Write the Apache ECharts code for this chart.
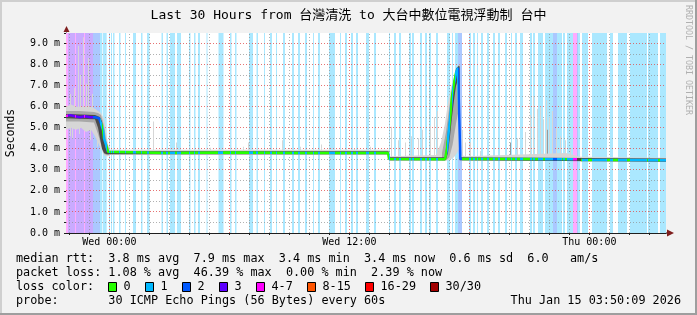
<!DOCTYPE html>
<html><head><meta charset="utf-8">
<script src="https://cdn.jsdelivr.net/npm/echarts@6/dist/echarts.min.js"></script>
<style>html,body{margin:0;padding:0;background:#f2f2f2}#c{width:697px;height:315px}</style>
</head><body><div id="c"></div>
<script>
const MONO = "'DejaVu Sans Mono', 'Noto Sans CJK TC', monospace";
// x = minutes since Tue 21:50 (start of the 30-hour window), y = milliseconds
const T_MAX = 1800;
const Y_MAX = 9.5;
const titleText = 'Last 30 Hours from 台灣清洗 to 大台中數位電視浮動制 台中';
const xLabelValues = [130, 850, 1570];
const xLabelTexts = ['Wed 00:00', 'Wed 12:00', 'Thu 00:00'];
const hourLines = [10,70,130,190,250,310,370,430,490,550,610,670,730,790,850,910,970,1030,1090,1150,1210,1270,1330,1390,1450,1510,1570,1630,1690,1750];
const majorHourLines = [130, 490, 850, 1210, 1570];
const yGridValues = [0.5,1,1.5,2,2.5,3,3.5,4,4.5,5,5.5,6,6.5,7,7.5,8,8.5,9];

const lossLabels = ['0','1','2','3','4-7','8-15','16-29','30/30'];
const lossColors = ['#26ff00','#00b8ff','#0059ff','#5e00ff','#ff00ff','#ff5500','#ff0000','#a10000'];

// loss periods [start, end] in minutes, per loss class
const loss1 = [[102,108],[110,122],[129,132],[135,138],[141,145.5],[159,163.5],[177,180],[201,210],[225,229.5],[243,250.5],[286.5,291],[301.5,306],[312,327],[333,345],[369,373.5],[384,388.5],[396,402],[421.5,424.5],[457.5,472.5],[492,496.5],[507,511.5],[549,561],[571.5,576],
 [594,597],[612,618],[630,633],[651,657],[678,684],[696,702],[717,723],[741,744],[756,762],[789,807],[822,825],[837,843],[855,861],[870,876],[900,909],[924,930],
 [969,972],[984,990],[999,1005],[1029,1035],[1038,1044],[1062,1068],[1077,1083],[1089,1095],[1110,1116],[1143,1152],[1158,1161],[1167,1176],[1209,1215],[1221,1227],[1233,1236],[1245,1251],[1263,1269],[1281,1287],[1296,1302],[1317,1323],[1335,1338],[1347,1353],[1362,1371],[1392,1398],[1401,1407],[1416,1431],[1437,1461],[1473,1488],[1491,1497],[1503,1521],[1536,1542],[1548,1566],[1578,1623],[1632,1641],[1656,1683],[1692,1743],[1746,1776],[1782,1800]];
const loss2 = [[81,102],[1176,1188],[1461,1473],[1533,1536]];
const loss3 = [[6,27],[30,54],[57,81]];
const loss4 = [[0,6],[27,30],[54,57],[1521,1533]];

// median rtt
const medianT = [0,12,27,42,57,72,87,99,105,111,114,120,126,132,300,500,700,966,969,1137,1143,1146,1152,1158,1164,1170,1176,1179,1181,1183,1350,1533,1536,1545,1700,1800];
const medianV = [5.55,5.6,5.55,5.5,5.55,5.5,5.5,5.45,5.2,4.9,4.5,4.2,3.86,3.8,3.8,3.82,3.8,3.8,3.52,3.5,4.0,4.5,5.4,6.5,7.1,7.6,7.85,7.9,7.8,3.52,3.52,3.5,null,3.47,3.47,3.45];

// smoke envelopes
const smokeOuterT  = [0,15,30,45,60,75,87,96,105,114,120,126,132,966,968,969,1110,1125,1137,1146,1155,1164,1173,1179,1181,1183,1200,1500,1536,1545,1800];
const smokeOuterLo = [4.9,5.0,4.9,5.0,4.8,4.9,4.6,4.3,4.0,3.7,3.65,3.65,3.7,3.7,3.7,3.42,3.42,3.42,3.42,3.45,3.5,3.6,3.8,4.0,4.5,3.42,3.42,3.42,3.42,3.4,3.38];
const smokeOuterHi = [6.0,6.1,6.0,6.0,6.0,6.0,5.9,5.8,5.7,5.4,4.8,4.2,3.95,3.95,3.95,3.65,3.7,4.3,5.2,6.2,6.9,7.4,7.85,8.0,8.0,3.7,3.65,3.8,3.65,3.62,3.58];
const smokeMidAT  = [0,40,84,96,105,114,122,130];
const smokeMidALo = [5.3,5.3,5.25,4.7,4.2,3.75,3.7,3.72];
const smokeMidAHi = [5.8,5.8,5.75,5.7,5.6,5.1,4.3,3.92];
const smokeMidBT  = [1128,1140,1150,1160,1170,1180,1182];
const smokeMidBLo = [3.45,3.45,3.6,4.2,5.2,6.0,3.5];
const smokeMidBHi = [3.8,4.8,6.0,7.0,7.8,8.0,3.6];
const coreT  = [0,87,96,102,108,114,120,126,966,968,969,1137,1140,1146,1152,1158,1164,1170,1179,1181,1183,1800];
const coreLo = [5.45,5.4,5.0,4.5,4.0,3.8,3.75,3.74,3.74,3.74,3.45,3.45,3.5,3.8,4.6,5.5,6.3,7.0,7.4,3.45,3.45,3.38];
const coreHi = [5.65,5.6,5.55,5.5,5.3,4.6,4.0,3.88,3.88,3.88,3.6,3.6,4.0,4.9,5.8,6.7,7.3,7.8,7.95,7.9,3.6,3.54];
// isolated smoke spikes [t, low, high, shade]
const spikes = [[12,4.6,6.6,0],[24,5.5,6.9,0],[36,5.5,8.9,0],[42,5.5,7.5,0],[51,5.5,9.3,0],[60,5.5,7.1,0],[66,5.5,8.3,0],[78,5.5,6.6,0],
 [18,4.5,5.3,0],[39,4.7,5.3,0],[72,4.4,5.3,0],[93,4.1,5.2,0],
 [261,3.8,5.3,0],[330,3.8,4.3,0],[432,3.8,4.05,0],[531,3.8,4.1,0],[546,3.8,4.3,0],[648,3.8,4.4,0],[702,3.8,4.1,0],[765,3.8,4.2,0],[864,3.8,4.0,0],[912,3.8,4.1,0],
 [975,3.5,5.05,0],[996,3.5,4.4,0],[1017,3.5,4.3,0],[1035,3.5,4.6,0],[1056,3.5,4.5,0],[1068,3.5,4.9,0],[1092,3.5,5.1,0],[1104,3.5,5.5,0],[1113,3.5,5.8,0],
 [1188,3.5,4.9,0],[1197,3.5,4.3,0],[1212,3.5,4.3,0],[1242,3.5,3.9,0],[1332,3.5,4.3,1],[1353,3.5,4.5,0],[1377,3.5,4.8,0],[1392,3.5,5.6,0],[1401,3.5,6.5,0],[1413,3.5,5.9,0],[1422,3.5,6.0,0],[1431,3.5,5.4,0],[1440,3.5,6.3,0],[1443,3.5,4.9,1],[1449,3.5,5.5,0],[1458,3.5,5.8,0],[1470,3.5,5.0,0],[1482,3.5,4.6,0],[1497,3.5,4.4,0],[1512,3.5,4.0,0]];

const legendRtt  = 'median rtt:  3.8 ms avg  7.9 ms max  3.4 ms min  3.4 ms now  0.6 ms sd  6.0   am/s';
const legendLoss = 'packet loss: 1.08 % avg  46.39 % max  0.00 % min  2.39 % now';
const legendProbe = 'probe:       30 ICMP Echo Pings (56 Bytes) every 60s';
const legendDate = 'Thu Jan 15 03:50:09 2026';

function lighten(hex, a) {
  const n = parseInt(hex.slice(1), 16);
  const r = n >> 16, g = (n >> 8) & 255, b = n & 255;
  const m = c => Math.round(255 - a * (255 - c));
  return 'rgb(' + m(r) + ',' + m(g) + ',' + m(b) + ')';
}

const bandData = [];
[[1, loss1], [2, loss2], [3, loss3], [4, loss4]].forEach(([lvl, arr]) => arr.forEach(([a, b]) => bandData.push([a, b, lvl])));
const pieces = bandData.map(([a, b, l]) => ({ gte: a, lt: b, color: lossColors[l] }));

const gridData = [];
yGridValues.forEach(v => gridData.push([0, v, v % 1 === 0 ? 1 : 0]));
hourLines.forEach(v => gridData.push([1, v, majorHourLines.indexOf(v) >= 0 ? 1 : 0]));

function bandSeries(ts, lo, hi, color, z) {
  return {
    type: 'custom', z: z, silent: true, data: [[ts[0], lo[0]]],
    renderItem: (params, api) => {
      const pts = [];
      for (let i = 0; i < ts.length; i++) pts.push(api.coord([ts[i], hi[i]]));
      for (let i = ts.length - 1; i >= 0; i--) pts.push(api.coord([ts[i], lo[i]]));
      return { type: 'polygon', shape: { points: pts }, style: { fill: color } };
    }
  };
}

const chart = echarts.init(document.getElementById('c'), null, { renderer: 'canvas' });
chart.setOption({
  backgroundColor: '#f2f2f2',
  animation: false,
  grid: { left: 66, top: 33, width: 600, height: 200, show: true, backgroundColor: '#ffffff', borderWidth: 0, containLabel: false, outerBoundsMode: 'none' },
  xAxis: {
    type: 'value', min: 0, max: T_MAX,
    axisLine: { show: true, lineStyle: { color: '#1f1f1f', width: 1 } },
    axisTick: { show: true, customValues: hourLines, length: 2, lineStyle: { color: '#1f1f1f' } },
    axisLabel: { customValues: xLabelValues, formatter: v => xLabelTexts[xLabelValues.indexOf(v)] || '', fontFamily: MONO, fontSize: 10, color: '#000', margin: 4 },
    splitLine: { show: false }
  },
  yAxis: {
    type: 'value', min: 0, max: Y_MAX, interval: 0.5,
    name: 'Seconds', nameLocation: 'middle', nameGap: 49, nameRotate: 90,
    nameTextStyle: { fontFamily: MONO, fontSize: 11.5, color: '#000' },
    axisLine: { show: true, lineStyle: { color: '#1f1f1f', width: 1 } },
    axisTick: { show: true, length: 2, lineStyle: { color: '#1f1f1f' } },
    axisLabel: { formatter: v => (Math.abs(v % 1) < 1e-9 && v < Y_MAX ? v.toFixed(1) + ' m' : ''), fontFamily: MONO, fontSize: 10, color: '#000', margin: 6 },
    splitLine: { show: false }
  },
  visualMap: {
    type: 'piecewise', show: false, dimension: 0, seriesIndex: 7,
    pieces: pieces, outOfRange: { color: lossColors[0] }
  },
  series: [
    { // loss background
      type: 'custom', z: 1, silent: true, data: bandData,
      renderItem: (params, api) => {
        const p1 = api.coord([api.value(0), Y_MAX]);
        const p2 = api.coord([api.value(1), 0]);
        return { type: 'rect', shape: { x: p1[0], y: p1[1], width: p2[0] - p1[0], height: p2[1] - p1[1] },
          style: { fill: lighten(lossColors[api.value(2)], 0.33) } };
      }
    },
    { // grid lines
      type: 'custom', z: 2, silent: true, data: gridData,
      renderItem: (params, api) => {
        const o = api.value(0), v = api.value(1), major = api.value(2);
        let p1, p2;
        if (o === 0) { p1 = api.coord([0, v]); p2 = api.coord([T_MAX, v]); const y = Math.floor(p1[1]) + 0.5; p1[1] = y; p2[1] = y; }
        else { p1 = api.coord([v, 0]); p2 = api.coord([v, Y_MAX]); const x = Math.round(p1[0]) + 0.5; p1[0] = x; p2[0] = x; }
        return { type: 'line', shape: { x1: p1[0], y1: p1[1], x2: p2[0], y2: p2[1] },
          style: { stroke: major ? 'rgba(222,79,79,0.8)' : 'rgba(143,143,143,0.7)', lineWidth: 1, lineDash: [1, 2] } };
      }
    },
    { // spikes
      type: 'custom', z: 3, silent: true, data: spikes,
      renderItem: (params, api) => {
        const a = api.coord([api.value(0), api.value(2)]);
        const b = api.coord([api.value(0), api.value(1)]);
        return { type: 'rect', shape: { x: Math.floor(a[0]), y: a[1], width: 1, height: b[1] - a[1] },
          style: { fill: api.value(3) ? '#9a9a9a' : '#d6d6d6' } };
      }
    },
    bandSeries(smokeOuterT, smokeOuterLo, smokeOuterHi, '#d6d6d6', 3),
    bandSeries(smokeMidAT, smokeMidALo, smokeMidAHi, '#a8a8a8', 4),
    bandSeries(smokeMidBT, smokeMidBLo, smokeMidBHi, '#a8a8a8', 4),
    bandSeries(coreT, coreLo, coreHi, '#4a4a4a', 5),
    { // median
      type: 'line', z: 6, silent: true, showSymbol: false, connectNulls: false,
      data: medianT.map((t, i) => [t, medianV[i]]),
      lineStyle: { width: 2.5 }
    }
  ],
  graphic: [
    { type: 'rect', shape: { x: 0, y: 0, width: 697, height: 2 }, style: { fill: '#cfcfcf' }, silent: true },
    { type: 'rect', shape: { x: 0, y: 0, width: 2, height: 315 }, style: { fill: '#cfcfcf' }, silent: true },
    { type: 'rect', shape: { x: 695, y: 0, width: 2, height: 315 }, style: { fill: '#9e9e9e' }, silent: true },
    { type: 'rect', shape: { x: 0, y: 313, width: 697, height: 2 }, style: { fill: '#9e9e9e' }, silent: true },
    { type: 'text', x: 348.5, y: 16, style: { text: titleText, font: '13px ' + MONO, fill: '#000', textAlign: 'center', textVerticalAlign: 'middle' } },
    { type: 'text', x: 688, y: 5, rotation: -Math.PI / 2, style: { text: 'RRDTOOL / TOBI OETIKER', font: '8.3px ' + MONO, fill: '#b0b0b0', textAlign: 'left', textVerticalAlign: 'middle' } },
    { type: 'polygon', shape: { points: [[63.5, 32], [69.5, 32], [66.5, 26]] }, style: { fill: '#7f1f1f' } },
    { type: 'line', shape: { x1: 666, y1: 233, x2: 668, y2: 233 }, style: { stroke: '#1f1f1f', lineWidth: 1 } },
    { type: 'polygon', shape: { points: [[667, 229.5], [667, 236.5], [674, 233]] }, style: { fill: '#7f1f1f' } },
    { type: 'text', x: 16, y: 259, style: { text: legendRtt, font: '11.8px ' + MONO, fill: '#000', textVerticalAlign: 'middle' } },
    { type: 'text', x: 16, y: 273, style: { text: legendLoss, font: '11.8px ' + MONO, fill: '#000', textVerticalAlign: 'middle' } },
    { type: 'text', x: 16, y: 287, style: { text: 'loss color:', font: '11.8px ' + MONO, fill: '#000', textVerticalAlign: 'middle' } },
    { type: 'text', x: 16, y: 301, style: { text: legendProbe, font: '11.8px ' + MONO, fill: '#000', textVerticalAlign: 'middle' } },
    { type: 'text', x: 681, y: 301, style: { text: legendDate, font: '11.8px ' + MONO, fill: '#000', textAlign: 'right', textVerticalAlign: 'middle' } }
  ].concat(lossLabels.flatMap((lab, i) => {
    const bx = [108, 145, 182, 219, 256, 307, 365, 430][i];
    return [
      { type: 'rect', shape: { x: bx + 0.5, y: 282.5, width: 8, height: 9 }, style: { fill: lossColors[i], stroke: '#000', lineWidth: 1 } },
      { type: 'text', x: bx + 15.5, y: 287, style: { text: lab, font: '11.8px ' + MONO, fill: '#000', textVerticalAlign: 'middle' } }
    ];
  }))
});
</script>
</body></html>
